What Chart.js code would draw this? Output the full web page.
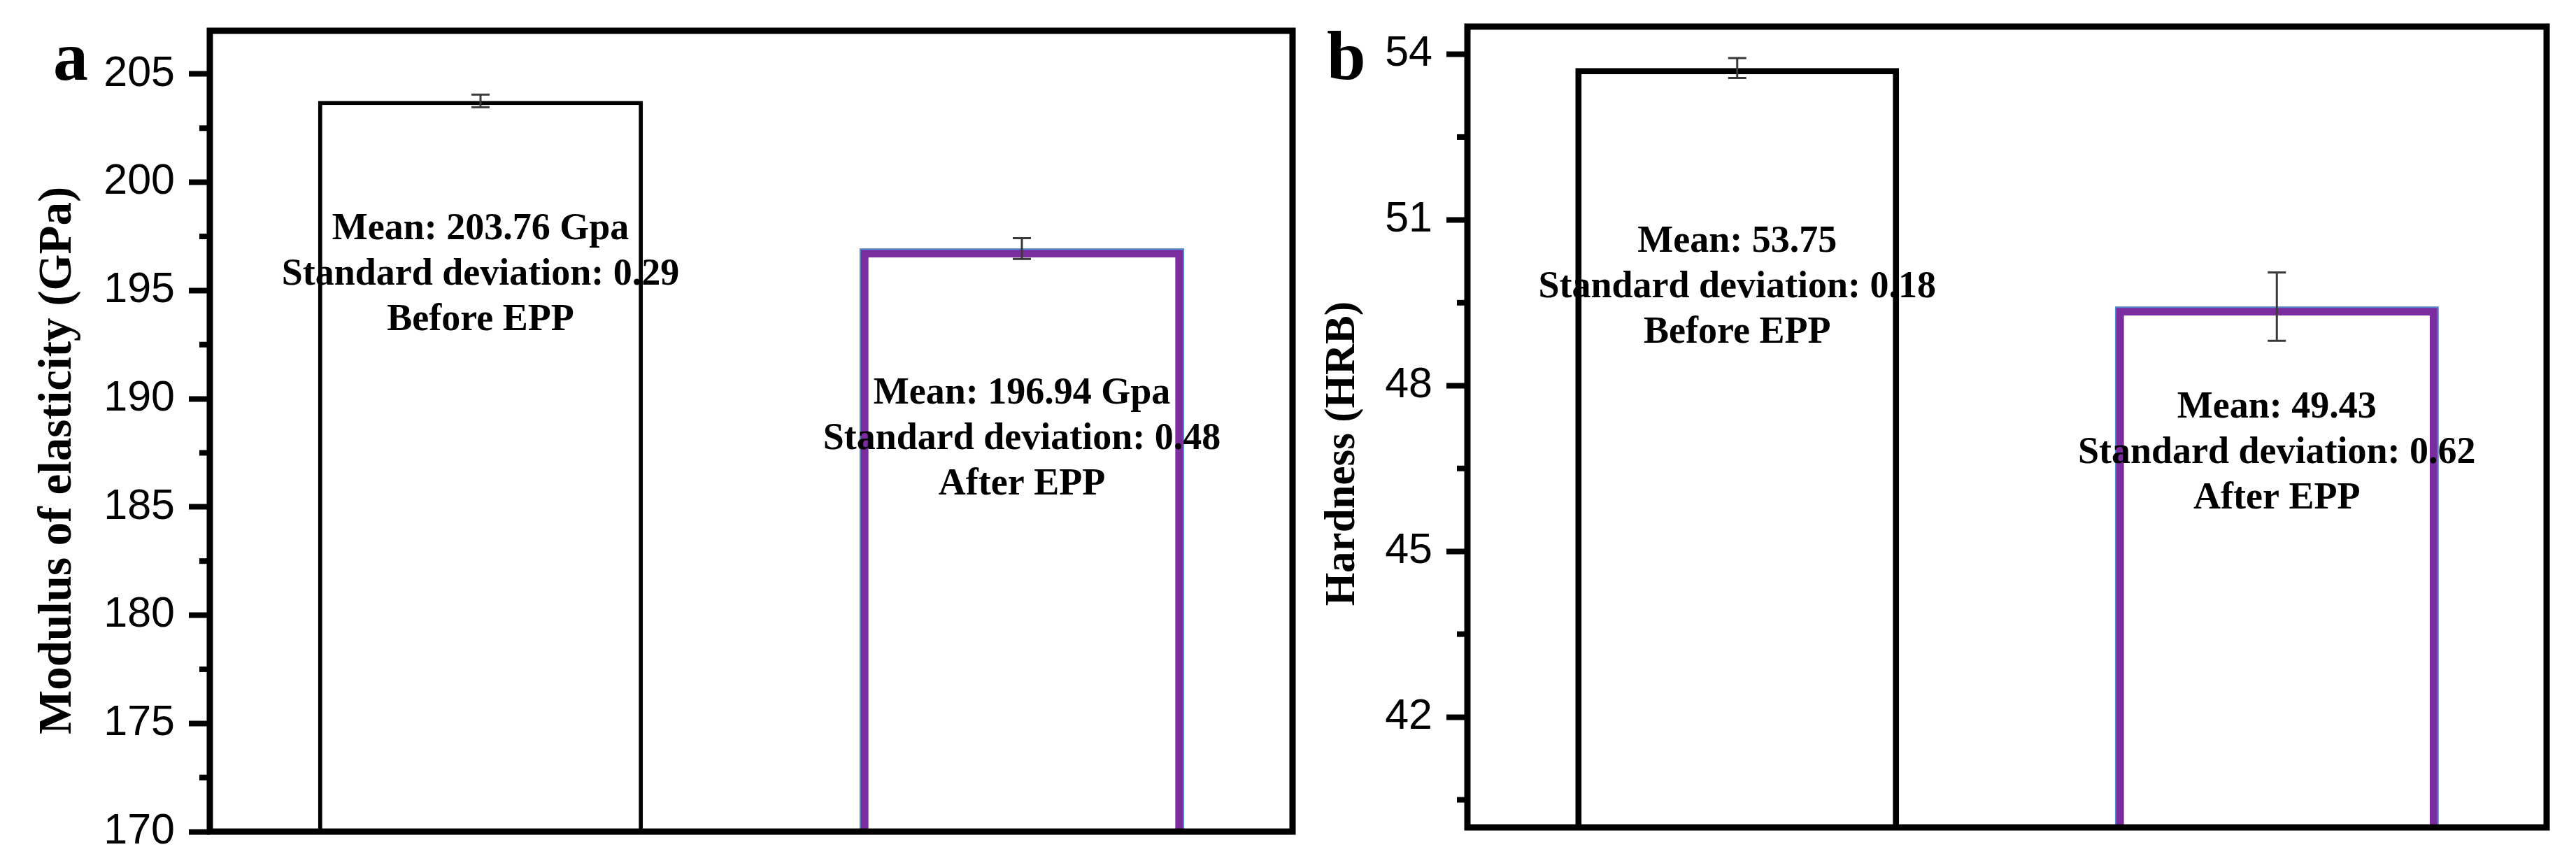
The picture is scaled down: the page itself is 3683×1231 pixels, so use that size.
<!DOCTYPE html>
<html>
<head>
<meta charset="utf-8">
<title>Modulus of elasticity and hardness before / after EPP</title>
<script src="https://cdn.jsdelivr.net/npm/chart.js@4.4.1/dist/chart.umd.min.js"></script>
<style>
  html, body { margin: 0; padding: 0; background: #fff; }
  body { width: 3683px; height: 1231px; position: relative; overflow: hidden; }
  .panel { position: absolute; top: 0; height: 1231px; }
  #panelA { left: 0; width: 1880px; }
  #panelB { left: 1860px; width: 1823px; }
</style>
</head>
<body>
<div class="panel" id="panelA"><canvas id="chartA"></canvas></div>
<div class="panel" id="panelB"><canvas id="chartB"></canvas></div>
<script>
// Categories shared by both panels
const categories = ['Before EPP', 'After EPP'];

// (a) Modulus of elasticity, GPa
const modulusMean = [203.76, 196.94];
const modulusSd = [0.29, 0.48];
const modulusTicks = [170, 175, 180, 185, 190, 195, 200, 205];

// (b) Hardness, HRB
const hardnessMean = [53.75, 49.43];
const hardnessSd = [0.18, 0.62];
const hardnessTicks = [42, 45, 48, 51, 54];

const BLACK = '#000000';
const PURPLE = '#7b2c9f';
const BLUE = '#4a8fca';
const NBSP = '\u00a0';

// Error bars, notes in the bars, minor ticks, closed frame and panel letter
const panelDecor = {
    id: 'panelDecor',
    afterDatasetsDraw(chart, args, opts) {
        const ctx = chart.ctx;
        const area = chart.chartArea;
        const y = chart.scales.y;
        const meta = chart.getDatasetMeta(0);
        ctx.save();

        // minor ticks half way between the major ones
        ctx.strokeStyle = BLACK;
        ctx.lineWidth = 8;
        for (let i = 0; i < opts.ticks.length; i++) {
            const prev = i === 0 ? opts.ticks[0] - (opts.ticks[1] - opts.ticks[0]) : opts.ticks[i - 1];
            const v = (prev + opts.ticks[i]) / 2;
            if (v < y.min || v > y.max) continue;
            const py = y.getPixelForValue(v);
            ctx.beginPath();
            ctx.moveTo(area.left - 15, py);
            ctx.lineTo(area.left, py);
            ctx.stroke();
        }

        // error bars
        ctx.strokeStyle = '#3a3a3a';
        ctx.lineWidth = 3;
        opts.means.forEach((m, i) => {
            const x = meta.data[i].x;
            const top = y.getPixelForValue(m + opts.sds[i]);
            const bot = y.getPixelForValue(m - opts.sds[i]);
            ctx.beginPath();
            ctx.moveTo(x, top); ctx.lineTo(x, bot);
            ctx.moveTo(x - 13, top); ctx.lineTo(x + 13, top);
            ctx.moveTo(x - 13, bot); ctx.lineTo(x + 13, bot);
            ctx.stroke();
        });

        // text inside the bars
        ctx.fillStyle = BLACK;
        ctx.font = 'bold 54px "Liberation Serif"';
        ctx.textAlign = 'center';
        ctx.textBaseline = 'alphabetic';
        opts.notes.forEach((lines, i) => {
            const x = meta.data[i].x;
            const y0 = y.getPixelForValue(opts.noteAt[i]);
            lines.forEach((t, k) => ctx.fillText(t, x, y0 + k * 65));
        });

        // closed frame round the plot
        ctx.strokeStyle = BLACK;
        ctx.lineWidth = 9;
        ctx.strokeRect(area.left, area.top, area.right - area.left, area.bottom - area.top);

        // panel letter
        ctx.font = 'bold 100px "Liberation Serif"';
        ctx.textAlign = 'left';
        ctx.fillText(opts.letter, area.left + opts.letterDx, area.top + opts.letterDy);
        ctx.restore();
    }
};

function makePanel(canvasId, cfg) {
    const ctx = document.getElementById(canvasId).getContext('2d');
    return new Chart(ctx, {
        type: 'bar',
        data: {
            labels: categories,
            datasets: [{
                data: cfg.means,
                backgroundColor: '#ffffff',
                borderColor: [BLACK, PURPLE],
                borderWidth: [cfg.firstBorder, 13],
                barPercentage: 0.75,
                grouped: false,
                order: 2
            }, {
                // thin blue edge round the purple bar
                data: cfg.means,
                backgroundColor: 'rgba(0,0,0,0)',
                borderColor: ['rgba(0,0,0,0)', BLUE],
                borderWidth: [0, 2],
                barPercentage: 0.75,
                grouped: false,
                order: 1
            }]
        },
        options: {
            responsive: true,
            maintainAspectRatio: false,
            animation: false,
            layout: { padding: cfg.padding },
            plugins: {
                legend: { display: false },
                tooltip: { enabled: false },
                panelDecor: {
                    means: cfg.means,
                    sds: cfg.sds,
                    ticks: cfg.ticks,
                    notes: cfg.notes,
                    noteAt: cfg.noteAt,
                    letter: cfg.letter,
                    letterDx: cfg.letterDx,
                    letterDy: cfg.letterDy
                }
            },
            scales: {
                x: { display: false },
                y: {
                    min: cfg.min,
                    max: cfg.max,
                    afterBuildTicks: scale => {
                        scale.ticks = cfg.ticks.map(v => ({ value: v }));
                    },
                    afterFit: scale => {
                        scale.width = cfg.axisWidth;
                        scale.paddingTop = 0;
                        scale.paddingBottom = 0;
                    },
                    border: { display: false },
                    grid: {
                        drawOnChartArea: false,
                        tickLength: 30,
                        tickWidth: 8,
                        tickColor: BLACK
                    },
                    ticks: {
                        padding: 20,
                        color: BLACK,
                        font: { family: 'Liberation Sans', size: 61 }
                    },
                    title: {
                        display: true,
                        text: cfg.title + NBSP.repeat(5),
                        color: BLACK,
                        font: { family: 'Liberation Serif', weight: 'bold', size: cfg.titleSize, lineHeight: 1 },
                        padding: { top: cfg.titlePad, bottom: 0 }
                    }
                }
            }
        },
        plugins: [panelDecor]
    });
}

makePanel('chartA', {
    means: modulusMean,
    sds: modulusSd,
    ticks: modulusTicks,
    min: 170,
    max: 207,
    title: 'Modulus of elasticity (GPa)',
    titleSize: 67,
    titlePad: 50,
    axisWidth: 300,
    padding: { top: 44, right: 32, bottom: 42, left: 0 },
    firstBorder: 6,
    notes: categories.map((c, i) => ['Mean: ' + modulusMean[i] + ' Gpa', 'Standard deviation: ' + modulusSd[i], c]),
    noteAt: [197.36, 189.79],
    letter: 'a',
    letterDx: -224,
    letterDy: 70
});

makePanel('chartB', {
    means: hardnessMean,
    sds: hardnessSd,
    ticks: hardnessTicks,
    min: 40,
    max: 54.5,
    title: 'Hardness (HRB)',
    titleSize: 61,
    titlePad: 30,
    axisWidth: 238,
    padding: { top: 38, right: 42, bottom: 48, left: 0 },
    firstBorder: 9,
    notes: categories.map((c, i) => ['Mean: ' + hardnessMean[i], 'Standard deviation: ' + hardnessSd[i], c]),
    noteAt: [50.42, 47.42],
    letter: 'b',
    letterDx: -201,
    letterDy: 75
});
</script>
</body>
</html>
